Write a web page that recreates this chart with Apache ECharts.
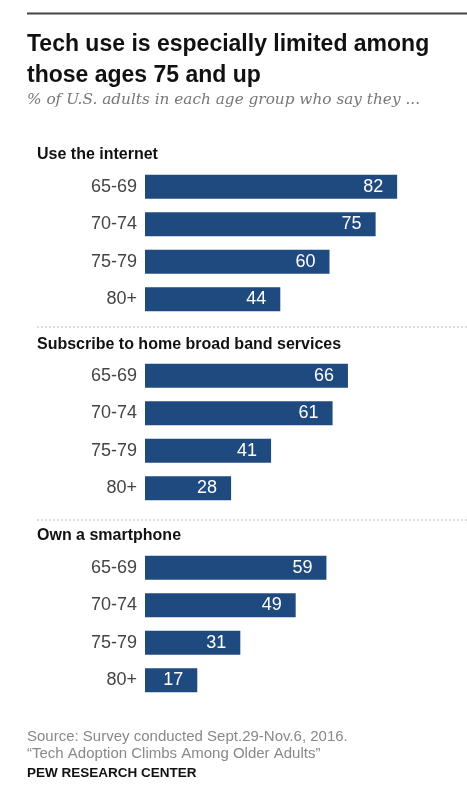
<!DOCTYPE html>
<html>
<head>
<meta charset="utf-8">
<script src="https://cdn.jsdelivr.net/npm/echarts@6/dist/echarts.min.js"></script>
<style>
  html, body { margin: 0; padding: 0; background: #fff; }
  #chart { width: 467px; height: 790px; }
</style>
</head>
<body>
<div id="chart"></div>
<script>
// Age groups shown in every panel
const ageGroups = ['65-69', '70-74', '75-79', '80+'];

// Share (%) of U.S. adults in each age group
const internetUse = [82, 75, 60, 44];
const broadband = [66, 61, 41, 28];
const smartphone = [59, 49, 31, 17];

const panelTitles = [
  'Use the internet',
  'Subscribe to home broad band services',
  'Own a smartphone'
];
const panelValues = [internetUse, broadband, smartphone];

const chartTitle = ['Tech use is especially limited among', 'those ages 75 and up'];
const chartSubtitle = '% of U.S. adults in each age group who say they ...';
const sourceLines = [
  'Source: Survey conducted Sept.29-Nov.6, 2016.',
  '\u201CTech Adoption Climbs Among Older Adults\u201D'
];
const brand = 'PEW RESEARCH CENTER';

const BAR_COLOR = '#1f4a7f';
const SANS = '"Liberation Sans", Arial, sans-serif';

const gridTops = [168, 357, 549];
const headingY = [147, 337, 528];
const separatorY = [327, 520];

const grids = [], xAxes = [], yAxes = [], series = [];
panelValues.forEach((vals, i) => {
  grids.push({ left: 145, width: 307.5, top: gridTops[i], height: 150 });
  xAxes.push({
    gridIndex: i, type: 'value', min: 0, max: 100,
    show: false
  });
  yAxes.push({
    gridIndex: i, type: 'category', data: ageGroups, inverse: true,
    axisLine: { show: false }, axisTick: { show: false },
    axisLabel: { color: '#444', fontSize: 18, fontFamily: SANS, margin: 8 }
  });
  series.push({
    type: 'bar', xAxisIndex: i, yAxisIndex: i, data: vals,
    barWidth: '64%',
    itemStyle: { color: BAR_COLOR },
    label: {
      show: true, position: 'insideRight', distance: 14,
      color: '#fff', fontSize: 18, fontFamily: SANS
    },
    silent: true, animation: false
  });
});

const graphics = [
  { type: 'line', shape: { x1: 27, y1: 13.5, x2: 467, y2: 13.5 },
    style: { stroke: '#444', lineWidth: 2 } },
  { type: 'text', left: 27, top: 29,
    style: { text: chartTitle.join('\n'), font: 'bold 23px ' + SANS, fill: '#111', lineHeight: 31 } },
  { type: 'text', left: 27, top: 93,
    style: { text: chartSubtitle, font: 'italic 15.3px "DejaVu Serif", Georgia, serif', fill: '#777' } }
];
panelTitles.forEach((t, i) => {
  graphics.push({ type: 'text', left: 37, top: headingY[i],
    style: { text: t, font: 'bold 16px ' + SANS, fill: '#111' } });
});
separatorY.forEach(y => {
  graphics.push({ type: 'line', shape: { x1: 37, y1: y, x2: 467, y2: y },
    style: { stroke: '#bbb', lineWidth: 1, lineDash: [2, 2] } });
});
graphics.push(
  { type: 'text', left: 27, top: 728,
    style: { text: sourceLines.join('\n'), font: '15px ' + SANS, fill: '#888', lineHeight: 17 } },
  { type: 'text', left: 27, top: 766,
    style: { text: brand, font: 'bold 13.5px ' + SANS, fill: '#111' } }
);

const chart = echarts.init(document.getElementById('chart'), null, { renderer: 'canvas' });
chart.setOption({
  animation: false,
  grid: grids,
  xAxis: xAxes,
  yAxis: yAxes,
  series: series,
  graphic: graphics
});
</script>
</body>
</html>
